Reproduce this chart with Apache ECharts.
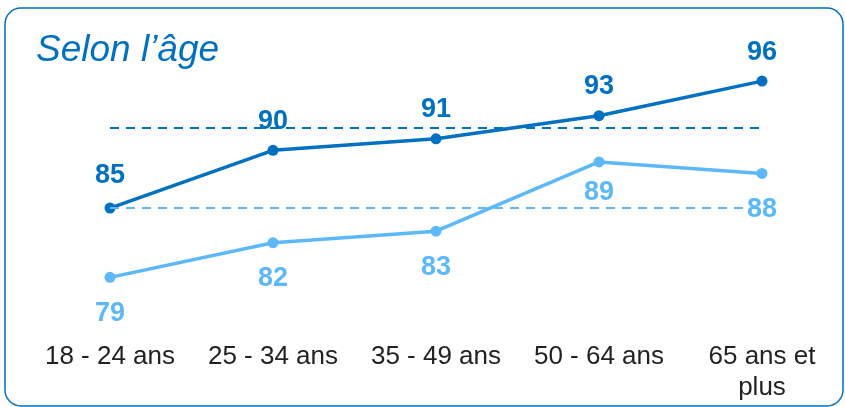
<!DOCTYPE html>
<html>
<head>
<meta charset="utf-8">
<script src="https://cdn.jsdelivr.net/npm/echarts@6/dist/echarts.min.js"></script>
<style>
  html, body { margin: 0; padding: 0; background: #fff; }
  #chart { width: 845px; height: 407px; }
</style>
</head>
<body>
<div id="chart"></div>
<script>
const categories = ['18 - 24 ans', '25 - 34 ans', '35 - 49 ans', '50 - 64 ans', '65 ans et\nplus'];
const darkValues = [85, 90, 91, 93, 96];
const lightValues = [79, 82, 83, 89, 88];
const darkRef = 92;
const lightRef = 85;

const DARK = '#0070C0';
const LIGHT = '#5CB8F8';

const chart = echarts.init(document.getElementById('chart'));

const option = {
  animation: false,
  graphic: [
    {
      type: 'rect',
      shape: { x: 5, y: 8, width: 838, height: 398, r: 16 },
      style: { fill: 'none', stroke: DARK, lineWidth: 1.5 }
    },
    {
      type: 'text',
      left: 36,
      top: 32,
      style: {
        text: 'Selon l\u2019âge',
        font: 'italic 37px "Liberation Sans", Arial, sans-serif',
        fill: DARK
      }
    }
  ],
  grid: { left: 110, right: 83, top: 58, height: 254 },
  xAxis: {
    type: 'category',
    data: categories,
    boundaryGap: false,
    axisLine: { show: false },
    axisTick: { show: false },
    axisLabel: {
      color: '#222',
      fontFamily: 'Liberation Sans',
      fontSize: 26,
      lineHeight: 31,
      margin: 29,
      verticalAlign: 'top',
      interval: 0
    }
  },
  yAxis: {
    type: 'value',
    min: 76,
    max: 98,
    show: false,
    splitLine: { show: false }
  },
  series: [
    {
      name: 'light',
      type: 'line',
      data: lightValues.map((v, i) => i === 3
        ? { value: v, label: { distance: 12 } }
        : v),
      color: LIGHT,
      lineStyle: { width: 3.5 },
      symbol: 'circle',
      symbolSize: 11,
      label: {
        show: true,
        position: 'bottom',
        distance: 17,
        color: LIGHT,
        fontWeight: 'bold',
        fontSize: 27,
        fontFamily: 'Liberation Sans'
      },
      markLine: {
        silent: true,
        symbol: 'none',
        label: { show: false },
        lineStyle: { color: LIGHT, type: [9, 7], width: 2 },
        data: [{ yAxis: lightRef }]
      },
      z: 2
    },
    {
      name: 'dark',
      type: 'line',
      data: darkValues.map((v, i) => i === 0
        ? { value: v, label: { distance: 14 } }
        : v),
      color: DARK,
      lineStyle: { width: 3.5 },
      symbol: 'circle',
      symbolSize: 11,
      label: {
        show: true,
        position: 'top',
        distance: 10,
        color: DARK,
        fontWeight: 'bold',
        fontSize: 27,
        fontFamily: 'Liberation Sans'
      },
      markLine: {
        silent: true,
        symbol: 'none',
        label: { show: false },
        lineStyle: { color: DARK, type: [9, 7], width: 2 },
        data: [{ yAxis: darkRef }]
      },
      z: 3
    }
  ]
};

chart.setOption(option);
</script>
</body>
</html>
